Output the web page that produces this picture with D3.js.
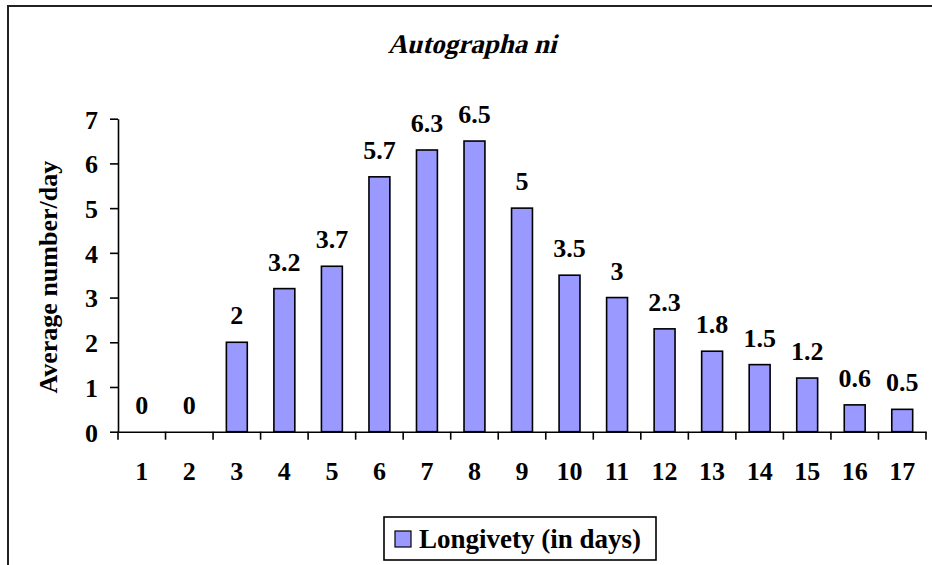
<!DOCTYPE html>
<html>
<head>
<meta charset="utf-8">
<script src="https://cdn.jsdelivr.net/npm/d3@7"></script>
<style>
  html, body { margin: 0; padding: 0; background: #fff; overflow: hidden; }
  svg { display: block; }
  svg text { font-family: "Liberation Serif", "Times New Roman", "DejaVu Serif", serif; font-weight: bold; }
</style>
</head>
<body>
<svg id="chart"></svg>
<script>
const categories = ["1", "2", "3", "4", "5", "6", "7", "8", "9", "10", "11", "12", "13", "14", "15", "16", "17"];
const values = [0, 0, 2, 3.2, 3.7, 5.7, 6.3, 6.5, 5, 3.5, 3, 2.3, 1.8, 1.5, 1.2, 0.6, 0.5];
const valueLabels = ["0", "0", "2", "3.2", "3.7", "5.7", "6.3", "6.5", "5", "3.5", "3", "2.3", "1.8", "1.5", "1.2", "0.6", "0.5"];
const yTicks = [0, 1, 2, 3, 4, 5, 6, 7];
const seriesName = "Longivety (in days)";
const title = "Autographa ni";
const yTitle = "Average number/day";

const width = 932, height = 565;
const margin = { top: 118.7, right: 6, bottom: 133.3, left: 118 };
const barFill = "#9999ff";

const svg = d3.select("#chart")
    .attr("width", width)
    .attr("height", height);

// outer chart border (runs off the right/bottom edge like the scan)
svg.append("rect")
    .attr("x", 8).attr("y", 6)
    .attr("width", 940).attr("height", 580)
    .attr("fill", "none")
    .attr("stroke", "#222")
    .attr("stroke-width", 2);

const x = d3.scaleBand()
    .domain(categories)
    .range([margin.left, width - margin.right])
    .paddingInner(0.56)
    .paddingOuter(0.28);

// category slots, for tick marks between categories
const slot = d3.scaleBand()
    .domain(categories)
    .range([margin.left, width - margin.right]);

const y = d3.scaleLinear()
    .domain([0, 7])
    .range([height - margin.bottom, margin.top]);

// title - serif bold, slanted by hand (no serif bold-italic face available)
svg.append("text")
    .attr("transform", "translate(472,53) skewX(-14)")
    .attr("text-anchor", "middle")
    .attr("font-size", 27)
    .text(title);

// y axis title
svg.append("text")
    .attr("transform", `translate(57, ${(y(0) + y(7)) / 2 + 2}) rotate(-90)`)
    .attr("text-anchor", "middle")
    .attr("font-size", 26)
    .text(yTitle);

// bars
svg.append("g")
    .selectAll("rect")
    .data(values)
    .join("rect")
    .attr("x", (d, i) => x(categories[i]))
    .attr("y", d => y(d))
    .attr("width", x.bandwidth())
    .attr("height", d => y(0) - y(d))
    .attr("fill", barFill)
    .attr("stroke", d => d > 0 ? "#000" : "none")
    .attr("stroke-width", 1.6);

// value labels
svg.append("g")
    .selectAll("text")
    .data(values)
    .join("text")
    .attr("x", (d, i) => x(categories[i]) + x.bandwidth() / 2)
    .attr("y", d => y(d) - 18)
    .attr("text-anchor", "middle")
    .attr("font-size", 26)
    .text((d, i) => valueLabels[i]);

// y axis
const yAxis = svg.append("g")
    .attr("transform", `translate(${margin.left},0)`)
    .call(d3.axisLeft(y).tickValues(yTicks).tickFormat(d3.format("d")).tickSize(8).tickSizeOuter(0).tickPadding(12))
    .attr("font-family", null)
    .attr("font-size", null);
yAxis.selectAll("text").attr("font-size", 26).attr("dy", "0.36em");
yAxis.selectAll("line, path").attr("stroke", "#000").attr("stroke-width", 1.6);

// x axis (labels only, centred on slots)
const xAxis = svg.append("g")
    .attr("transform", `translate(0,${y(0)})`)
    .call(d3.axisBottom(slot).tickSize(0).tickSizeOuter(0).tickPadding(30))
    .attr("font-family", null)
    .attr("font-size", null);
xAxis.selectAll("text").attr("font-size", 26);
xAxis.select("path").attr("stroke", "#000").attr("stroke-width", 1.6);

// tick marks between categories
const boundaries = categories.map(c => slot(c)).concat([slot.range()[1]]);
svg.append("g")
    .selectAll("line")
    .data(boundaries)
    .join("line")
    .attr("x1", d => d).attr("x2", d => d)
    .attr("y1", y(0)).attr("y2", y(0) + 8)
    .attr("stroke", "#000")
    .attr("stroke-width", 1.6);

// legend
const legend = svg.append("g");
legend.append("rect")
    .attr("x", 384).attr("y", 517)
    .attr("width", 272).attr("height", 43)
    .attr("fill", "#fff")
    .attr("stroke", "#000")
    .attr("stroke-width", 1.6);
legend.append("rect")
    .attr("x", 395).attr("y", 531)
    .attr("width", 16).attr("height", 16)
    .attr("fill", barFill)
    .attr("stroke", "#000")
    .attr("stroke-width", 1.2);
legend.append("text")
    .attr("x", 419).attr("y", 548)
    .attr("font-size", 27)
    .text(seriesName);
</script>
</body>
</html>
